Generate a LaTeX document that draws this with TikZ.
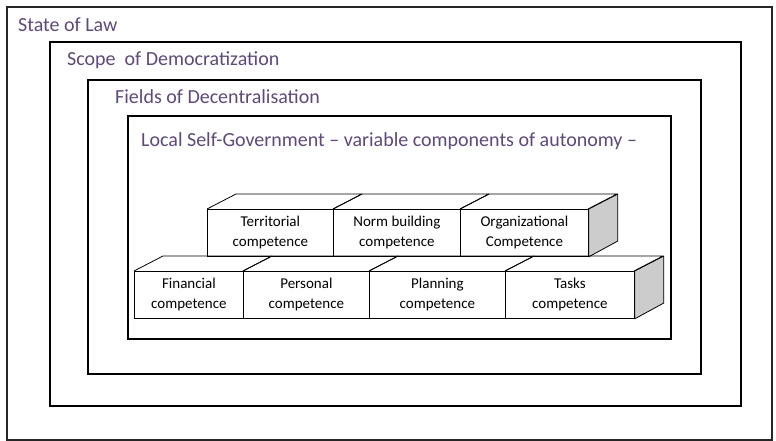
\documentclass[tikz,border=0pt]{standalone}
\usepackage{fontspec}
\setmainfont{Carlito}
\usetikzlibrary{positioning}
\definecolor{titlecolor}{RGB}{95,73,122}
\definecolor{sidecolor}{RGB}{204,204,204}
\tikzset{
  frame/.style={draw=black,line width=2.2pt},
  title/.style={anchor=west,text=titlecolor,inner sep=0pt,font=\fontsize{20}{24}\selectfont},
  brick/.style={draw=black,line width=0.8pt,fill=white,anchor=north west,inner sep=0pt,
    align=center,font=\fontsize{15}{20}\selectfont,minimum height=47pt},
  brickline/.style={draw=black,line width=0.8pt,line join=round}
}
\newcommand{\dx}{29}
\newcommand{\dy}{-15}
% name, x, y, width, first line, second line
\newcommand{\brickface}[6]{%
  \node[brick,minimum width=#4pt] (#1) at (#2,#3) {#5\\#6};
  \draw[brickline] (#1.north west) -- ++(\dx,\dy) -- ++(#4,0) -- ++(-\dx,-\dy);
}
\newcommand{\brickside}[1]{%
  \filldraw[brickline,fill=sidecolor] (#1.north east) -- ++(\dx,\dy) -- ++(0,47) -- (#1.south east) -- cycle;
}

\begin{document}
\begin{tikzpicture}[x=1pt,y=-1pt]
  \useasboundingbox (0,0) rectangle (776,441);
  \fill[white] (0,0) rectangle (776,441);
  % nested frames
  \draw[black!85,line width=1.4pt] (7,7) rectangle (772,440);
  \draw[frame] (50,42) rectangle (741,406);
  \draw[frame] (88,80) rectangle (701,374);
  \draw[frame] (128,116) rectangle (671,339);
  \node[title] (law) at (18,25) {State of Law};
  \node[title] (scope) at (67,60) {Scope\ \ of Democratization};
  \node[title] (fields) at (115,97) {Fields of Decentralisation};
  \node[title] (local) at (141,141) {Local Self-Government -- variable components of autonomy --};
  % upper row of bricks
  \brickface{ter}{207}{209}{126}{Territorial}{competence}
  \brickface{norm}{333}{209}{127}{Norm building}{competence}
  \brickface{org}{460}{209}{128}{Organizational}{Competence}
  \brickside{org}
  % lower row of bricks
  \brickface{fin}{134}{271}{109}{Financial}{competence}
  \brickface{pers}{243}{271}{126}{Personal}{competence}
  \brickface{plan}{369}{271}{136}{Planning}{competence}
  \brickface{task}{505}{271}{129}{Tasks}{competence}
  \brickside{task}
\end{tikzpicture}
\end{document}
